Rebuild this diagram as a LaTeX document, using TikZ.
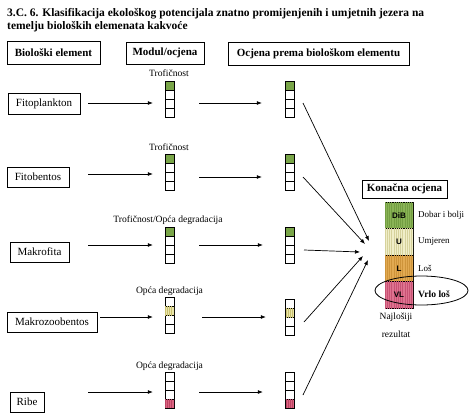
\documentclass[tikz,border=0pt]{standalone}
\usepackage{fontspec}
\setmainfont{Liberation Serif}
\newfontfamily\arialfont{Liberation Sans}
\usetikzlibrary{arrows.meta,patterns.meta,shapes.geometric}
\definecolor{sgreen}{HTML}{79A548}
\definecolor{sgreenS}{HTML}{6A9440}
\definecolor{syellow}{HTML}{EAE6A8}
\definecolor{syellowS}{HTML}{C9C070}
\definecolor{sred}{HTML}{DC6482}
\definecolor{sredS}{HTML}{BC4464}
\definecolor{cgreen}{HTML}{8AB456}
\definecolor{cgreenS}{HTML}{739E42}
\definecolor{ccream}{HTML}{F0EEC8}
\definecolor{ccreamS}{HTML}{D6D29C}
\definecolor{corange}{HTML}{E2AA52}
\definecolor{corangeS}{HTML}{CE943A}
\definecolor{cpink}{HTML}{DE7390}
\definecolor{cpinkS}{HTML}{C85274}
\tikzset{
  hdr/.style={draw, line width=0.8pt, inner sep=0pt, font=\fontsize{11}{13}\selectfont\bfseries},
  elem/.style={draw, line width=0.6pt, inner sep=0pt, font=\fontsize{11}{13}\selectfont},
  cell/.style={draw, line width=0.6pt, minimum width=9pt, minimum height=9pt, inner sep=0pt},
  colbox/.style={minimum width=9pt, minimum height=36pt, inner sep=0pt},
  lbl/.style={font=\fontsize{9.6}{11}\selectfont, inner sep=0pt},
  rlbl/.style={font=\fontsize{9}{11}\selectfont, inner sep=0pt, anchor=west},
  arr/.style={-{Latex[length=5pt,width=4pt]}, line width=0.7pt},
  stripes/.style={postaction={pattern color=#1, pattern={Lines[angle=90,distance=2.2pt,line width=0.5pt]}}},
  sg/.style={fill=sgreen},
  sy/.style={fill=syellow, stripes=syellowS},
  sr/.style={fill=sred, stripes=sredS},
  fcell/.style={draw, line width=0.6pt, minimum width=28pt, minimum height=26.5pt, inner sep=0pt},
  flet/.style={font=\arialfont\fontsize{8}{9}\selectfont\bfseries, inner sep=0pt},
  ttl/.style={anchor=base west, inner sep=0pt, font=\fontsize{11.5}{13}\selectfont\bfseries},
}
\begin{document}
\begin{tikzpicture}[x=1pt,y=-1pt]
\useasboundingbox (0,0) rectangle (474,418);
\fill[white] (0,0) rectangle (474,418);
% title
\node[ttl] (title1) at (7,16.7) {3.C. 6. Klasifikacija ekološkog potencijala znatno promijenjenih i umjetnih jezera na};
\node[ttl] (title2) at (7,29.4) {temelju bioloških elemenata kakvoće};
% headers
\node[hdr, minimum width=93pt, minimum height=23pt] (h1) at (53.5,53) {Biološki element};
\node[hdr, minimum width=78pt, minimum height=22pt] (h2) at (165,53) {Modul/ocjena};
\node[hdr, minimum width=181pt, minimum height=23pt] (h3) at (318.5,53.5) {Ocjena prema biološkom elementu};
% elements
\node[elem, minimum width=72pt, minimum height=21pt] (e1) at (44,103.5) {Fitoplankton};
\node[elem, minimum width=62pt, minimum height=20pt] (e2) at (38,177) {Fitobentos};
\node[elem, minimum width=59pt, minimum height=20pt] (e3) at (39.5,252) {Makrofita};
\node[elem, minimum width=90pt, minimum height=20pt] (e4) at (52,322) {Makrozoobentos};
\node[elem, minimum width=34pt, minimum height=20pt] (e5) at (27,402) {Ribe};
% module labels
\node[lbl] (l1) at (169,73) {Trofičnost};
\node[lbl] (l2) at (169,147) {Trofičnost};
\node[lbl] (l3) at (168,220) {Trofičnost/Opća degradacija};
\node[lbl] (l4) at (169.5,291) {Opća degradacija};
\node[lbl] (l5) at (169.5,366) {Opća degradacija};
% columns
\foreach \i/\lt/\rt/\k/\c in {1/81/81/1/sg,2/154/154/1/sg,3/227/227/1/sg,4/297/299/2/sy,5/372/372/4/sr}{
  \node[colbox] (m\i) at (169.5,\lt+18) {};
  \node[colbox] (r\i) at (289.5,\rt+18) {};
  \foreach \j in {1,...,4}{
    \node[cell] (m\i-\j) at (169.5,\lt+9*\j-4.5) {};
    \node[cell] (r\i-\j) at (289.5,\rt+9*\j-4.5) {};
  }
  \node[cell,\c] (mc\i) at (169.5,\lt+9*\k-4.5) {};
  \node[cell,\c] (rc\i) at (289.5,\rt+9*\k-4.5) {};
}
% arrow coordinates
\foreach \i/\y/\sx/\yy/\px in {1/103/88/103/199,2/174/88/177/199,3/245/88/245/199,4/317/100/317/202,5/392/88/392/199}{
  \coordinate (s\i) at (\sx,\y);
  \coordinate (p\i) at (\px,\yy);
}
\foreach \i/\sh in {1/12,2/12,3/12,4/12,5/12}{
  \draw[arr, shorten >=\sh pt] (s\i) -- (m\i.west |- s\i);
}
\foreach \i/\sh in {1/23,2/23,3/22,4/19,5/22}{
  \draw[arr, shorten >=\sh pt] (p\i) -- (r\i.west |- p\i);
}
% converging
\coordinate (u1) at (303,103);
\coordinate (u2) at (303,177);
\coordinate (u3) at (304,250);
\coordinate (u4) at (304,322);
\coordinate (u5) at (303,395);
\coordinate (t1) at (369,241);
\coordinate (t2) at (365,244);
\coordinate (t3) at (360,252);
\coordinate (t4) at (363,256);
\coordinate (t5) at (368,260);
\foreach \i in {1,...,5}{\draw[arr] (u\i) -- (t\i);}
% final
\node[hdr, minimum width=85pt, minimum height=18pt] (fin) at (404.5,189) {Konačna ocjena};
\node[fcell, fill=cgreen, stripes=cgreenS] (f1) at (399,215.25) {};
\node[fcell, fill=ccream, stripes=ccreamS] (f2) at (399,241.75) {};
\node[fcell, fill=corange, stripes=corangeS] (f3) at (399,268.25) {};
\node[fcell, fill=cpink, stripes=cpinkS] (f4) at (399,294.75) {};
\node[flet] (f1t) at (f1) {DiB};
\node[flet] (f2t) at (f2) {U};
\node[flet] (f3t) at (f3) {L};
\node[flet] (f4t) at (f4) {VL};
\node[rlbl] (g1) at (418,215) {Dobar i bolji};
\node[rlbl] (g2) at (418,241) {Umjeren};
\node[rlbl] (g3) at (418,268) {Loš};
\node[rlbl, font=\fontsize{9.6}{11}\selectfont\bfseries] (g4) at (418,294) {Vrlo loš};
\node[draw, ellipse, line width=0.8pt, minimum width=93pt, minimum height=29pt, inner sep=0pt] (ell) at (421.5,290.5) {};
\node[font=\fontsize{9.5}{17.5}\selectfont, align=center, inner sep=0pt] (naj) at (396,325) {Najlošiji\\rezultat};
\end{tikzpicture}
\end{document}
